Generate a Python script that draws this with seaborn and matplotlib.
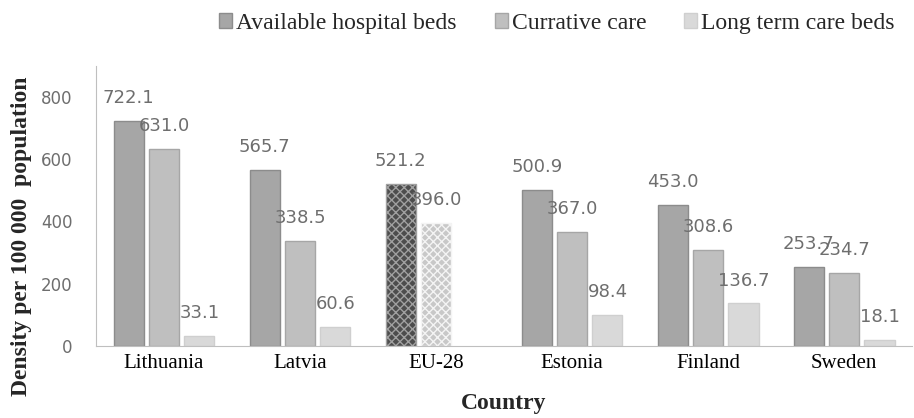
import pandas as pd
import numpy as np
import matplotlib
matplotlib.use("Agg")
import matplotlib.pyplot as plt
import seaborn as sns
from matplotlib.patches import Patch

countries = ["Lithuania", "Latvia", "EU-28", "Estonia", "Finland", "Sweden"]
series = ["Available hospital beds", "Currative care", "Long term care beds"]
available_beds = [722.1, 565.7, 521.2, 500.9, 453.0, 253.7]
curative_care = [631.0, 338.5, 396.0, 367.0, 308.6, 234.7]
long_term_beds = [33.1, 60.6, np.nan, 98.4, 136.7, 18.1]

df = pd.DataFrame({
    "Country": countries * 3,
    "Type": [series[0]] * 6 + [series[1]] * 6 + [series[2]] * 6,
    "Density": available_beds + curative_care + long_term_beds,
})

sns.set_style("white")
plt.rcParams["font.family"] = ["DejaVu Sans"]

fig = plt.figure(figsize=(9.14, 4.18), dpi=100)
ax = fig.add_axes([0.105, 0.1722, 0.893, 0.671])

colors = ["#A6A6A6", "#BFBFBF", "#D9D9D9"]
edges = ["#8C8C8C", "#A6A6A6", "#CFCFCF"]
sns.barplot(data=df, x="Country", y="Density", hue="Type", palette=colors,
            width=0.78, gap=0.15, ax=ax, legend=False)

eu_idx = countries.index("EU-28")
for i, cont in enumerate(ax.containers):
    for bar in cont:
        bar.set_edgecolor(edges[i])
        bar.set_linewidth(1.0)
        cat = int(round(bar.get_x() + bar.get_width() / 2))
        if cat == eu_idx:
            bar.set_hatch("xxxx")
            if i == 0:
                bar.set_facecolor("#4D4D4D")
                bar.set_edgecolor("#A0A0A0")
            else:
                bar.set_facecolor("#C8C8C8")
                bar.set_edgecolor("#F4F4F4")
    labels = ["" if np.isnan(v) else f"{v:.1f}" for v in cont.datavalues]
    ax.bar_label(cont, labels=labels, padding=10, fontsize=13, color="#6E6E6E")

ax.set_ylim(0, 900)
ax.set_yticks([0, 200, 400, 600, 800])
ax.tick_params(axis="y", labelsize=12, labelcolor="#6E6E6E", length=0, pad=17)
ax.tick_params(axis="x", length=0, pad=6)
for lbl in ax.get_xticklabels():
    lbl.set_fontfamily("Liberation Serif")
    lbl.set_fontsize(15)
    lbl.set_color("black")

ax.set_xlabel("Country", fontfamily="Liberation Serif", fontsize=17,
              fontweight="bold")
ax.xaxis.set_label_coords(0.5, -0.168)
ax.set_ylabel("Density per 100 000  population", fontfamily="Liberation Serif",
              fontsize=17, fontweight="bold")
ax.yaxis.set_label_coords(-0.078, 0.393)

for side in ["top", "right"]:
    ax.spines[side].set_visible(False)
ax.spines["left"].set_color("#BFBFBF")
ax.spines["bottom"].set_color("#BFBFBF")

handles = [Patch(facecolor=c, edgecolor=e) for c, e in zip(colors, edges)]
fig.legend(handles, series, loc="upper right", bbox_to_anchor=(1.002, 1.02),
           ncol=3, frameon=False, handlelength=0.55, handleheight=0.55,
           handletextpad=0.17, columnspacing=1.6,
           prop={"family": "Liberation Serif", "size": 17})

fig.savefig("out.png", dpi=100)
